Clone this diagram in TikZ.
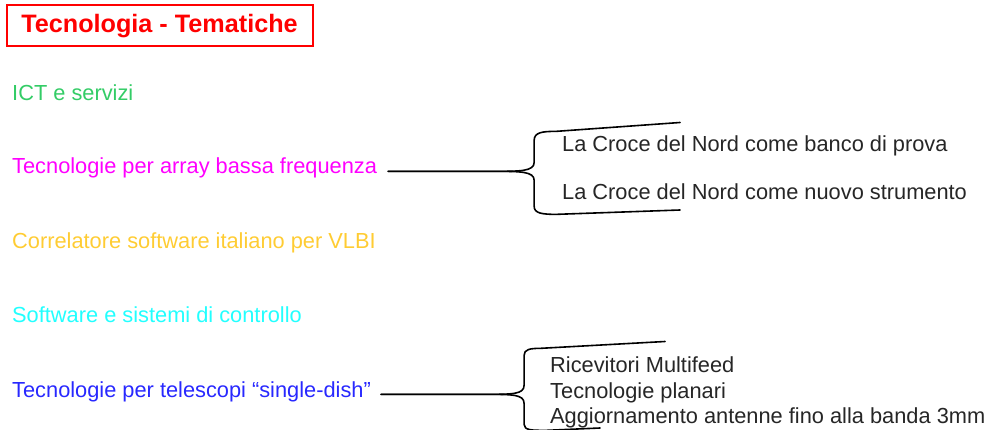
\documentclass[tikz,border=0pt]{standalone}
\usepackage{fontspec}
\setmainfont{Liberation Sans}
\usepackage{xcolor}
\usepackage{tikz}
\definecolor{ictgreen}{HTML}{33CC66}
\definecolor{lowmagenta}{HTML}{FF00FF}
\definecolor{corryellow}{HTML}{FFCC33}
\definecolor{swcyan}{HTML}{22FFFF}
\definecolor{dishblue}{HTML}{2828FF}
\tikzset {
  % page title in the red frame
  title/.style = {draw=red, line width=2pt, text=red, inner sep=0pt,
    minimum width=306pt, minimum height=41pt,
    font=\fontsize{25.2}{30}\selectfont\bfseries},
  % topics on the left
  topic/.style = {anchor=base west, inner sep=0pt, font=\fontsize{21.8}{26}\selectfont},
  % sub topics right of a fork
  sub/.style = {topic, text=black!85},
  % the curly forks
  fork/.style = {draw=black, line width=1.6pt, line cap=round},
}

\begin{document}
\begin{tikzpicture}[x=1pt, y=1pt]
      \useasboundingbox (0,0) rectangle (993,-430);

      \node[title] (ttl) at (159.5,-26) {Tecnologia - Tematiche};

      \node[topic, text=ictgreen]   (ict) at (12,-100.5) {ICT e servizi};
      \node[topic, text=lowmagenta] (arr) at (12,-174)   {Tecnologie per array bassa frequenza};
      \node[topic, text=corryellow] (cor) at (12,-248.5) {Correlatore software italiano per VLBI};
      \node[topic, text=swcyan]     (sw)  at (12,-322.5) {Software e sistemi di controllo};
      \node[topic, text=dishblue]   (dsh) at (12,-397)   {Tecnologie per telescopi “single-dish”};

      \node[sub] (lcp) at (562,-152) {La Croce del Nord come banco di prova};
      \node[sub] (lcs) at (562,-200) {La Croce del Nord come nuovo strumento};

      \node[sub] (rcv) at (550,-372.5) {Ricevitori Multifeed};
      \node[sub] (pln) at (550,-398)   {Tecnologie planari};
      \node[sub] (agg) at (550,-423.5) {Aggiornamento antenne fino alla banda 3mm};

      % ends of the fork arms
      \coordinate (t1) at (680,-122.5);
      \coordinate (u1) at (680,-210);
      \coordinate (t2) at (665,-341.5);
      \coordinate (u2) at (600,-428);

      \draw [fork] ([xshift=11pt]arr.mid east) -- ++(106,0)
            .. controls +(26,0) and +(0,-9) .. ++(40,9) -- ++(0,22)
            .. controls +(0,8) and +(-14,0) .. ++(22,9) -- (t1);
      \draw [fork] ([xshift=11pt]arr.mid east) -- ++(106,0)
            .. controls +(26,0) and +(0,9) .. ++(40,-9) -- ++(0,-26)
            .. controls +(0,-7) and +(-14,0) .. ++(22,-8) -- (u1);

      \draw [fork] ([xshift=10pt]dsh.mid east) -- ++(105,0)
            .. controls +(26,0) and +(0,-9) .. ++(38,9) -- ++(0,30)
            .. controls +(0,6) and +(-10,0) .. ++(16,7) -- (t2);
      \draw [fork] ([xshift=10pt]dsh.mid east) -- ++(105,0)
            .. controls +(26,0) and +(0,9) .. ++(38,-9) -- ++(0,-21)
            .. controls +(0,-6) and +(-14,0) .. ++(22,-6) -- (u2);
\end{tikzpicture}
\end{document}
